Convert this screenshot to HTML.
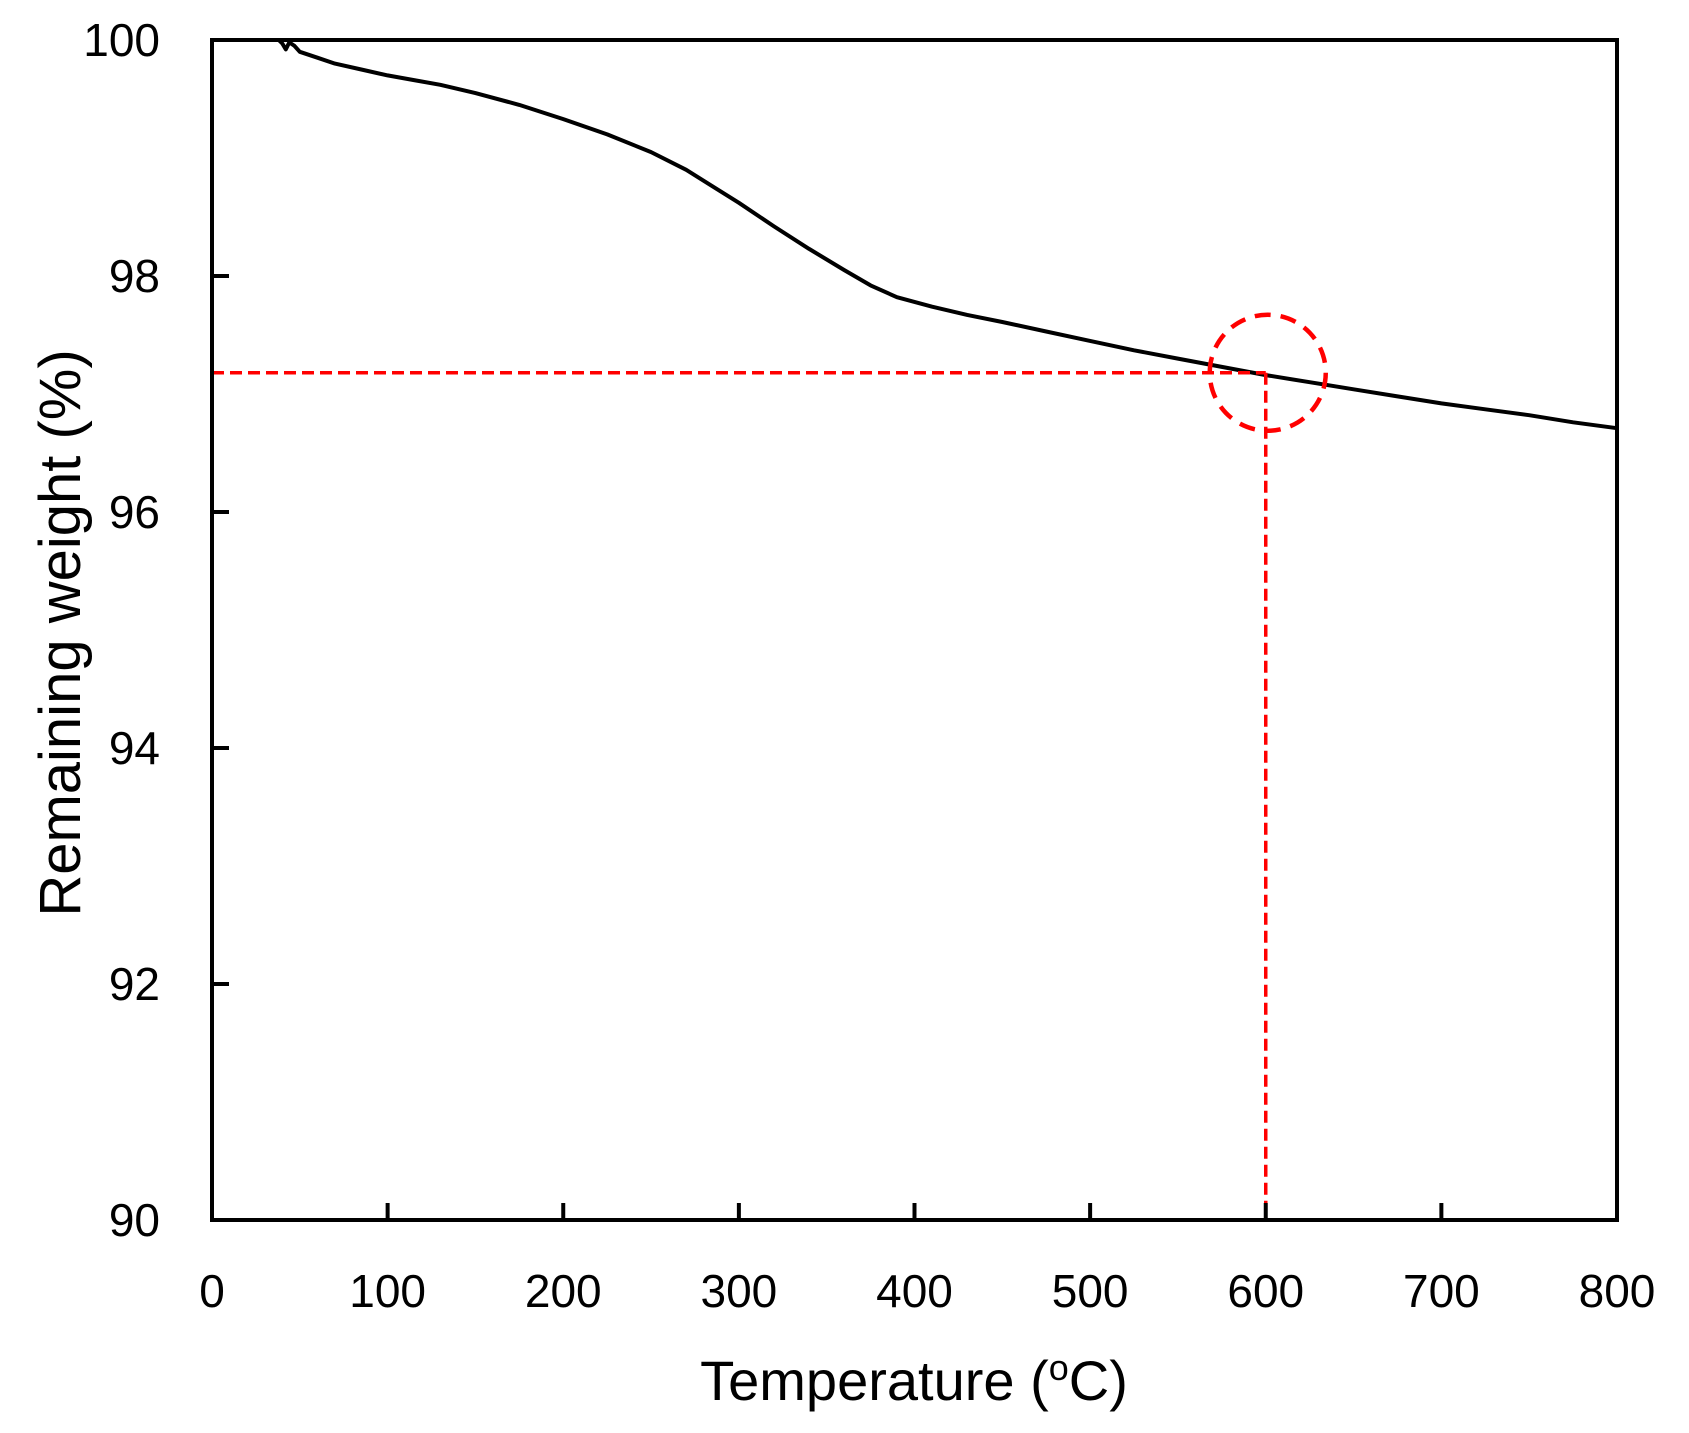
<!DOCTYPE html>
<html><head><meta charset="utf-8"><style>
html,body{margin:0;padding:0;background:#fff;}
svg{display:block;font-family:"Liberation Sans",sans-serif;}
</style></head><body>
<svg id="chart" width="1689" height="1433" viewBox="0 0 1689 1433">
<g id="marks"></g>
<rect x="212" y="40" width="1405" height="1180" fill="none" stroke="#000" stroke-width="4"/>
<g id="axes"></g>
<text x="914" y="1400" font-size="56" text-anchor="middle">Temperature (<tspan font-size="36" dy="-20">o</tspan><tspan dy="20">C)</tspan></text>
<text x="0" y="0" font-size="58" text-anchor="middle" transform="translate(80,633) rotate(-90)">Remaining weight (%)</text>
</svg>
<script>
const xTicks = [0,100,200,300,400,500,600,700,800];
const yTicks = [90,92,94,96,98,100];
const temps = [38,40,42,44,47,50,60,70,85,100,115,130,150,175,200,225,250,270,285,300,320,340,360,375,390,410,430,450,475,500,525,550,575,600,625,650,675,700,725,750,775,800];
const weights = [100,99.97,99.92,99.98,99.95,99.9,99.85,99.8,99.75,99.7,99.66,99.62,99.55,99.45,99.33,99.2,99.05,98.9,98.76,98.62,98.42,98.23,98.05,97.92,97.82,97.74,97.67,97.61,97.53,97.45,97.37,97.3,97.23,97.16,97.1,97.04,96.98,96.92,96.87,96.82,96.76,96.71];
const markT = [600];
const markW = [97.18];
const X0=212,X1=1617,Y0=1220,Y1=40;
const sx = t => X0 + (t-0)/(800-0)*(X1-X0);
const sy = w => Y0 - (w-90)/(100-90)*(Y0-Y1);
const NS="http://www.w3.org/2000/svg";
const axes=document.getElementById('axes'), marks=document.getElementById('marks');
function mk(tag,attrs,parent){const e=document.createElementNS(NS,tag);for(const k in attrs)e.setAttribute(k,attrs[k]);parent.appendChild(e);return e;}
xTicks.forEach(t=>{
  if(t>0&&t<800){const l=mk('line',{x1:sx(t),x2:sx(t),y1:Y0,y2:Y0-17,stroke:'#000','stroke-width':4},axes);
  
  }
  const tx=mk('text',{x:sx(t),y:Y0+87,'font-size':46,'text-anchor':'middle'},axes);
  tx.textContent=t;
  
  
});
yTicks.forEach(w=>{
  if(w>90&&w<100){const l=mk('line',{x1:X0,x2:X0+17,y1:sy(w),y2:sy(w),stroke:'#000','stroke-width':4},axes);
  
  }
  const tx=mk('text',{x:160,y:sy(w)+16,'font-size':46,'text-anchor':'end'},axes);
  tx.textContent=w;
  
  
});
const d=temps.map((t,i)=>(i?'L':'M')+sx(t).toFixed(1)+','+sy(weights[i]).toFixed(1)).join(' ');
const p=mk('path',{d:d,fill:'none',stroke:'#000','stroke-width':4,'stroke-linejoin':'round'},marks);


const mx=sx(markT[0]), my=sy(markW[0]);
const h=mk('line',{x1:X0,x2:mx,y1:my,y2:my,stroke:'#f00','stroke-width':3.5,'stroke-dasharray':'12,6'},marks);


const v=mk('line',{x1:mx,x2:mx,y1:my,y2:Y0,stroke:'#f00','stroke-width':3.5,'stroke-dasharray':'12,6'},marks);


const c=mk('circle',{cx:mx+2,cy:my,r:58,fill:'none',stroke:'#f00','stroke-width':4.5,'stroke-dasharray':'16,10'},marks);


</script>
</body></html>
